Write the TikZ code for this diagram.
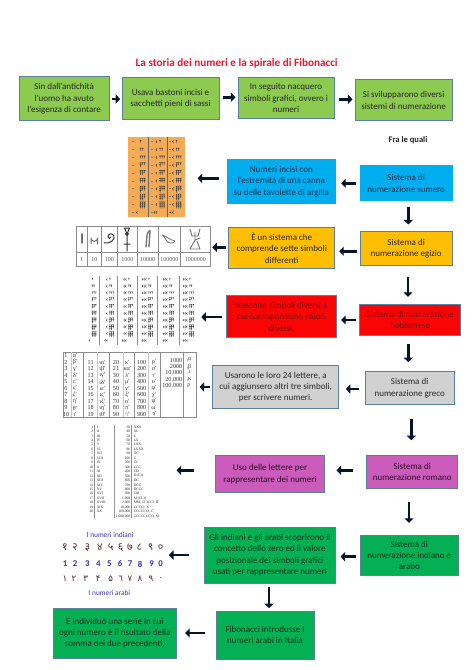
\documentclass[tikz,border=0pt]{standalone}
\usepackage{fontspec}
\setmainfont{Carlito}
\newfontfamily\tabfont{Liberation Serif}
\newfontfamily\devafont[Script=Devanagari]{Noto Sans}
\newfontfamily\arabfont[Script=Arabic]{DejaVu Sans}
\newfontfamily\labfont{Lato}
\usetikzlibrary{arrows.meta}
\definecolor{bordc}{HTML}{5A7F9F}
\definecolor{navy}{HTML}{06142B}
\definecolor{cwc}{HTML}{3A3A3A}
\tikzset{
  box/.style={draw=bordc,line width=0.75pt,inner sep=0pt,align=center,
    font=\fontsize{6.75}{8.5}\selectfont},
  imgbox/.style={inner sep=0pt},
  arr/.style={draw=navy,line width=2.1pt,-{Triangle[length=3.4pt,width=6.8pt]}},
  gap/.style 2 args={shorten <={#1*0.75pt},shorten >={#2*0.75pt}},
  tline/.style={draw=black!45,line width=0.35pt},
  tlight/.style={draw=black!22,line width=0.25pt},
  gly/.style={draw=black!55,line width=0.75pt,line cap=round,line join=round},
}
\definecolor{lime}{HTML}{8CCB50}
\definecolor{sky}{HTML}{00ADEF}
\definecolor{amber}{HTML}{FFBF00}
\definecolor{redb}{HTML}{FA0505}
\definecolor{grayb}{HTML}{D2D1D1}
\definecolor{purp}{HTML}{CB5CBB}
\definecolor{greenb}{HTML}{05B055}
\definecolor{orng}{HTML}{F5AA55}
\definecolor{indig}{HTML}{3A2FA8}
% name x1 y1 x2 y2 options text
\newcommand\bx[7]{\node[#6,minimum width={(#4-#2)*0.75pt},minimum height={(#5-#3)*0.75pt}] (#1) at ({(#2+#4)/2},{(#3+#5)/2}) {#7};}
% horizontal arrow: from to y gapstart gapend
\newcommand\ha[5]{\draw[arr,gap={#4}{#5}] (#1 |- 0,#3) -- (#2 |- 0,#3);}
% vertical arrow: from to x gapstart gapend
\newcommand\va[5]{\draw[arr,gap={#4}{#5}] (#1 -| #3,0) -- (#2 -| #3,0);}
% cuneiform: x y corners units scale
\newcommand\cw[5]{\begin{scope}[shift={(#1,#2)},scale=#5]
  \ifnum#3>0 \foreach \k in {1,...,#3}{\fill[cwc] ({-1.7*\k+0.2},-1.5)--({-1.7*\k-1.2},0)--({-1.7*\k+0.2},1.5)--({-1.7*\k-0.4},0)--cycle;}\fi
  \ifnum#4>0 \foreach \k in {1,...,#4}{\pgfmathtruncatemacro\cc{mod(\k-1,3)}\pgfmathtruncatemacro\rr{floor((\k-1)/3)}
    \pgfmathsetmacro\px{\cc*1.7+0.9}\pgfmathsetmacro\py{\rr*1.7-2.4+(#4<4?1:0)}
    \fill[cwc] (\px-0.85,\py)--(\px+0.85,\py)--(\px+0.22,\py+0.8)--(\px+0.16,\py+2.2)--(\px-0.16,\py+2.2)--(\px-0.22,\py+0.8)--cycle;}\fi
\end{scope}}
\begin{document}
\begin{tikzpicture}[x=0.75pt,y=-0.75pt]
\useasboundingbox (0,0) rectangle (474,670);
\fill[white] (0,0) rectangle (474,670);
\node[font=\fontsize{8.4}{10}\selectfont\bfseries,text={rgb,255:red,235;green,20;blue,50}] (title) at (236.7,63.3) {La storia dei numeri e la spirale di Fibonacci};
% top row
\bx{b1}{19.3}{76.7}{109}{121}{box,fill=lime,text=black!85}{Sin dall'antichità\\l'uomo ha avuto\\l'esigenza di contare}
\bx{b2}{122}{77.7}{219}{119.3}{box,fill=lime,text=black!85}{Usava bastoni incisi e\\sacchetti pieni di sassi}
\bx{b3}{238}{77.7}{334}{118.3}{box,fill=lime,text=black!85}{In seguito nacquero\\simboli grafici, ovvero i\\numeri}
\bx{b4}{355}{79.7}{452.3}{121}{box,fill=lime,text=black!85}{Si svilupparono diversi\\sistemi di numerazione}
\node[font=\fontsize{6.4}{8}\selectfont\bfseries,text=black!85] (fra) at (408,140) {Fra le quali};
% systems
\bx{sum}{360.3}{166}{452}{201}{box,fill=sky,draw=sky,text={rgb,255:red,8;green,50;blue,80}}{Sistema di\\numerazione sumero}
\bx{num}{227.3}{159.3}{335.3}{203.7}{box,fill=sky,draw=sky,text={rgb,255:red,8;green,50;blue,80}}{Numeri incisi con\\l'estremità di una canna\\su delle tavolette di argilla}
\bx{eg}{360}{231.7}{452.3}{265.7}{box,fill=amber,text=black!85}{Sistema di\\numerazione egizio}
\bx{esi}{228.7}{227.3}{334.7}{268.7}{box,fill=amber,text=black!85}{È un sistema che\\comprende sette simboli\\differenti}
\bx{bab}{359.7}{304.7}{460.7}{335.3}{box,fill=redb,text={rgb,255:red,125;green,10;blue,10}}{Sistema di numerazione\\babilonese}
\bx{nas}{226.3}{295.7}{336.3}{337.7}{box,fill=redb,text={rgb,255:red,125;green,10;blue,10}}{Nascono simboli diversi a\\cui corrispondono valori\\diversi.}
\bx{gre}{365.3}{371.7}{454}{404.7}{box,fill=grayb,text=black!85}{Sistema di\\numerazione greco}
\bx{usa}{212.7}{365.7}{338.7}{408.7}{box,fill=grayb,text=black!85}{Usarono le loro 24 lettere, a\\cui aggiunsero altri tre simboli,\\per scrivere numeri.}
\bx{rom}{366.7}{455.3}{457.7}{488.7}{box,fill=purp,text={rgb,255:red,45;green,10;blue,40}}{Sistema di\\numerazione romano}
\bx{uso}{215.3}{455.7}{324.7}{492.7}{box,fill=purp,text={rgb,255:red,45;green,10;blue,40}}{Uso delle lettere per\\rappresentare dei numeri}
\bx{ind}{360.3}{535.3}{458.3}{575.3}{box,fill=greenb,text={rgb,255:red,5;green,50;blue,25}}{Sistema di\\numerazione indiano e\\arabo}
\bx{gli}{204}{527.3}{335.7}{583}{box,fill=greenb,text={rgb,255:red,5;green,50;blue,25}}{Gli indiani e gli arabi scoprirono il\\concetto dello zero ed il valore\\posizionale dei simboli grafici\\usati per rappresentare numeri}
\bx{fib}{216}{611}{314}{659.3}{box,fill=greenb,text={rgb,255:red,5;green,50;blue,25}}{Fibonacci introdusse i\\numeri arabi in Italia}
\bx{ei}{53.7}{608}{176}{658}{box,fill=greenb,text={rgb,255:red,5;green,50;blue,25}}{E individuò una serie in cui\\ogni numero è il risultato della\\somma dei due precedenti.}
% picture frames
\bx{sumimg}{128}{137.3}{185}{217.3}{imgbox,fill=orng}{}
\bx{egimg}{76}{226}{210}{266.7}{imgbox}{}
\bx{babimg}{86.7}{276}{196.7}{345}{imgbox}{}
\bx{greimg}{63.3}{352.3}{196}{417.3}{imgbox,draw=black!45,line width=0.35pt}{}
\bx{romimg}{88}{425}{150}{518}{imgbox}{}
\bx{indimg}{62}{529}{165}{599}{imgbox}{}
% Sumerian table
\draw[draw=black!60,line width=0.3pt] (148.3,137.3)--(148.3,217.3) (166.7,137.3)--(166.7,217.3);
\foreach \r in {0,...,9}{
  \pgfmathsetmacro\yy{141.7+\r*7.85}
  \pgfmathtruncatemacro\uu{\r+1}
  \pgfmathtruncatemacro\ua{\uu<10?\uu:0}
  \pgfmathtruncatemacro\ca{\uu<10?0:1}
  \pgfmathtruncatemacro\cb{\uu<10?1:2}
  \foreach \dx in {131.5,150.5,169}{\fill[black!50] (\dx,\yy-0.3) rectangle (\dx+2,\yy+0.3);}
  \cw{139.5}{\yy}{\ca}{\ua}{1.2}
  \cw{159}{\yy}{\cb}{\ua}{1.2}
  \cw{175.5}{\yy}{\cb}{\ua}{1.2}
}
% Egyptian table
\draw[tline] (76,226) rectangle (210,266.7) (76,252.3)--(210,252.3);
\foreach \xx in {87.3,101.3,117.3,137.3,158,180.7}{\draw[tline] (\xx,226)--(\xx,266.7);}
\foreach \xx/\tt [count=\i] in {81.6/1,94.3/10,109.3/100,127.3/1000,147.6/10000,169.3/100000,195.3/1000000}{
  \node[font=\tabfont\fontsize{4.5}{5}\selectfont,text=black!65,inner sep=0pt] (eglab\i) at (\xx,259.5) {\tt};}
\draw[gly,line width=1.2pt] (82,234)--(82,243);
\draw[gly] (91,244)--(91,238) arc[start angle=180,end angle=0,radius=3.3] -- (97.6,244);
\draw[gly,draw=black!80] (104,243) .. controls (110,244) and (115,240) .. (114,236) .. controls (113,233) and (108,233) .. (108,237) .. controls (108,239) and (111,239) .. (111,237);
\draw[gly,draw=black!80] (127,236)--(127,251) (124,244)--(130,244) (124.5,228)--(129.5,228)--(127,234)--cycle (127,234) circle[radius=1.5];
\draw[gly,line width=1pt] (146,247)--(147,236) .. controls (147.5,232) and (149,231) .. (150,230.5) .. controls (150,233) and (149.5,238) .. (149,247);
\draw[gly,line width=.6pt] (162,235) .. controls (166,236) and (170,240) .. (175,241) .. controls (173,244) and (168,244) .. (166,240) .. controls (165,238) and (164,236) .. (162,235);
\draw[gly,line width=.7pt] (190,229)--(192,236)--(198,236)--(200,229) (195,232)--(195,240)--(190,249)--(200,249)--(197,241) (195,240)--(200,238);
% Babylonian table
\foreach \xx in {99.3,117.3,136.7,157.3,178.7}{\draw[tlight,draw=black!45] (\xx,276)--(\xx,345);}
\foreach \cl/\xx [count=\j from 0] in {0/91.5,1/109,2/128,3/148,4/169,5/189}{
 \foreach \r in {0,...,9}{
  \pgfmathsetmacro\yy{279.3+\r*6.8}
  \pgfmathtruncatemacro\uu{\r+1}
  \pgfmathtruncatemacro\ua{\uu<10?\uu:0}
  \pgfmathtruncatemacro\ca{min(\j+(\uu<10?0:1),3)}
  \cw{\xx}{\yy}{\ca}{\ua}{1.0}
 }}
% Greek table
\foreach \xx in {83.3,109,134,160.7,183.3}{\draw[tline] (\xx,352.3)--(\xx,417.3);}
\foreach \xx in {70.7,96.7,123.3,148.3}{\draw[tlight] (\xx,352.3)--(\xx,417.3);}
\tikzset{gt/.style={font=\tabfont\fontsize{4.6}{5}\selectfont,inner sep=0pt,text=black!80}}
\foreach \n/\g [count=\i from 0] in {1/α',2/β',3/γ',4/δ',5/ε',6/ς',7/ζ',8/η',9/θ',10/ι'}{
  \pgfmathsetmacro\yy{355.9+\i*6.5}
  \node[gt] (ga\i) at (66,\yy) {\n}; \node[gt] (gb\i) at (75,\yy) {\g};}
\foreach \n/\g [count=\i from 0] in {11/ια',12/ιβ',13/ιγ',14/ιδ',15/ιε',16/ις',17/ιζ',18/ιη',19/ιθ'}{
  \pgfmathsetmacro\yy{355.9+\i*6.5+6.5}
  \node[gt] (gc\i) at (90.7,\yy) {\n}; \node[gt] (gd\i) at (102.3,\yy) {\g};}
\foreach \n/\g [count=\i from 0] in {20/κ',21/κα',30/λ',40/μ',50/ν',60/ξ',70/ο',80/π',90/ϟ'}{
  \pgfmathsetmacro\yy{355.9+\i*6.5+6.5}
  \node[gt] (ge\i) at (116,\yy) {\n}; \node[gt] (gf\i) at (127.3,\yy) {\g};}
\foreach \n/\g [count=\i from 0] in {100/ρ',200/σ',300/τ',400/υ',500/φ',600/χ',700/ψ',800/ω',900/ϡ'}{
  \pgfmathsetmacro\yy{355.9+\i*6.5+6.5}
  \node[gt] (gg\i) at (141.7,\yy) {\n}; \node[gt] (gh\i) at (154,\yy) {\g};}
\foreach \n/\g [count=\i from 0] in {1000/{,α},2000/{,β},10.000/{,ι},20.000/{,κ},100.000/{ρ}}{
  \pgfmathsetmacro\yy{360+\i*6.5}
  \node[gt,anchor=east] (gi\i) at (182.5,\yy) {\n}; \node[gt] (gj\i) at (189,\yy) {\g};}
% Roman table
\draw[tline] (94.7,425)--(94.7,518) (131.7,425)--(131.7,518);
\draw[tlight,draw=black!40,line width=.5pt] (114,425)--(114,518);
\tikzset{rt/.style={font=\tabfont\fontsize{2.7}{3}\selectfont,inner sep=0pt,text=black!85}}
\foreach \g [count=\i] in {I,II,III,IV,V,VI,VII,VIII,IX,X,XI,XII,XIII,XIV,XV,XVI,XVII,XVIII,XIX,XX}{
  \pgfmathsetmacro\yy{427+(\i-1)*4.45}
  \node[rt,anchor=east] (ra\i) at (93.5,\yy) {\i}; \node[rt,anchor=west] (rb\i) at (96.5,\yy) {\g};}
\foreach \n/\g [count=\i from 0] in {30/XXX,40/XL,50/L,60/LX,70/LXX,80/LXXX,90/XC,100/C,200/CC,300/CCC,400/CD,500/{D (IƆ)},600/DC,700/DCC,800/DCCC,900/CM,1.000/{M (CIƆ)},2.000/{MM, CIƆCIƆ, \=I\=I},10.000/{CCIƆƆ, \=X},100.000/{CCCIƆƆƆ, \=C},1.000.000/{CCCCIƆƆƆƆ, \=M}}{
  \pgfmathsetmacro\yy{427+\i*4.45}
  \node[rt,anchor=east] (rc\i) at (130.5,\yy) {\n}; \node[rt,anchor=west] (rd\i) at (133.5,\yy) {\g};}
% Indian and Arabic numerals
\node[font=\labfont\fontsize{5.2}{6}\selectfont,text=indig,inner sep=0pt] (li) at (110,535) {I numeri indiani};
\node[font=\labfont\fontsize{5.2}{6}\selectfont,text=indig,inner sep=0pt] (la) at (109.3,593.3) {I numeri arabi};
\foreach \xx/\g [count=\i] in {65/१,75/२,87.3/३,100/४,110.7/५,120.7/६,130/७,139.3/८,150.7/९,160.7/०}{
  \node[font=\devafont\fontsize{8}{9}\selectfont,text={rgb,255:red,95;green,45;blue,50},inner sep=0pt] (ia\i) at (\xx,547.3) {\g};}
\foreach \xx/\g [count=\i] in {65/1,75/2,87.3/3,98.3/4,109.3/5,120/6,130/7,140/8,151.7/9,160.7/0}{
  \node[font=\fontsize{6.6}{8}\selectfont\bfseries,text=indig,inner sep=0pt] (ib\i) at (\xx,564) {\g};}
\foreach \xx/\g [count=\i] in {65/١,74/٢,85.7/٣,98.3/۴,110.7/۵,120.7/٦,130/٧,140/٨,151/٩,161/٠}{
  \node[font=\arabfont\fontsize{6.5}{8}\selectfont,text={rgb,255:red,85;green,40;blue,45},inner sep=0pt] (ic\i) at (\xx,579) {\g};}
% arrows
\ha{b1.east}{b2.west}{99}{2}{1.3}
\ha{b2.east}{b3.west}{97.3}{3.7}{2}
\ha{b3.east}{b4.west}{99.3}{4}{2}
\ha{sum.west}{num.east}{183.3}{3.6}{5.4}
\ha{num.west}{sumimg.east}{178.3}{8.3}{12.3}
\va{sum.south}{eg.north}{408.3}{5.7}{6.7}
\ha{eg.west}{esi.east}{251.3}{3}{4}
\ha{esi.west}{egimg.east}{247.3}{2}{2}
\va{eg.south}{bab.north}{408}{10.3}{7.4}
\ha{bab.west}{nas.east}{320}{3.4}{4.4}
\ha{nas.west}{babimg.east}{317}{4.3}{4.3}
\va{bab.south}{gre.north}{408.3}{8.4}{9}
\ha{gre.west}{usa.east}{389}{6}{6.6}
\ha{usa.west}{greimg.east}{387}{2}{3.3}
\va{gre.south}{rom.north}{411.3}{13.3}{14.6}
\ha{rom.west}{uso.east}{470.3}{13}{11.3}
\ha{uso.west}{romimg.east}{470.3}{21.3}{26.3}
\va{rom.south}{ind.north}{409}{12.6}{12}
\ha{ind.west}{gli.east}{556.7}{4.3}{4.3}
\ha{gli.west}{indimg.east}{555}{14.7}{3.7}
\va{gli.south}{fib.north}{269}{3.3}{2.3}
\ha{fib.west}{ei.east}{633}{10.3}{8.7}
\end{tikzpicture}
\end{document}
